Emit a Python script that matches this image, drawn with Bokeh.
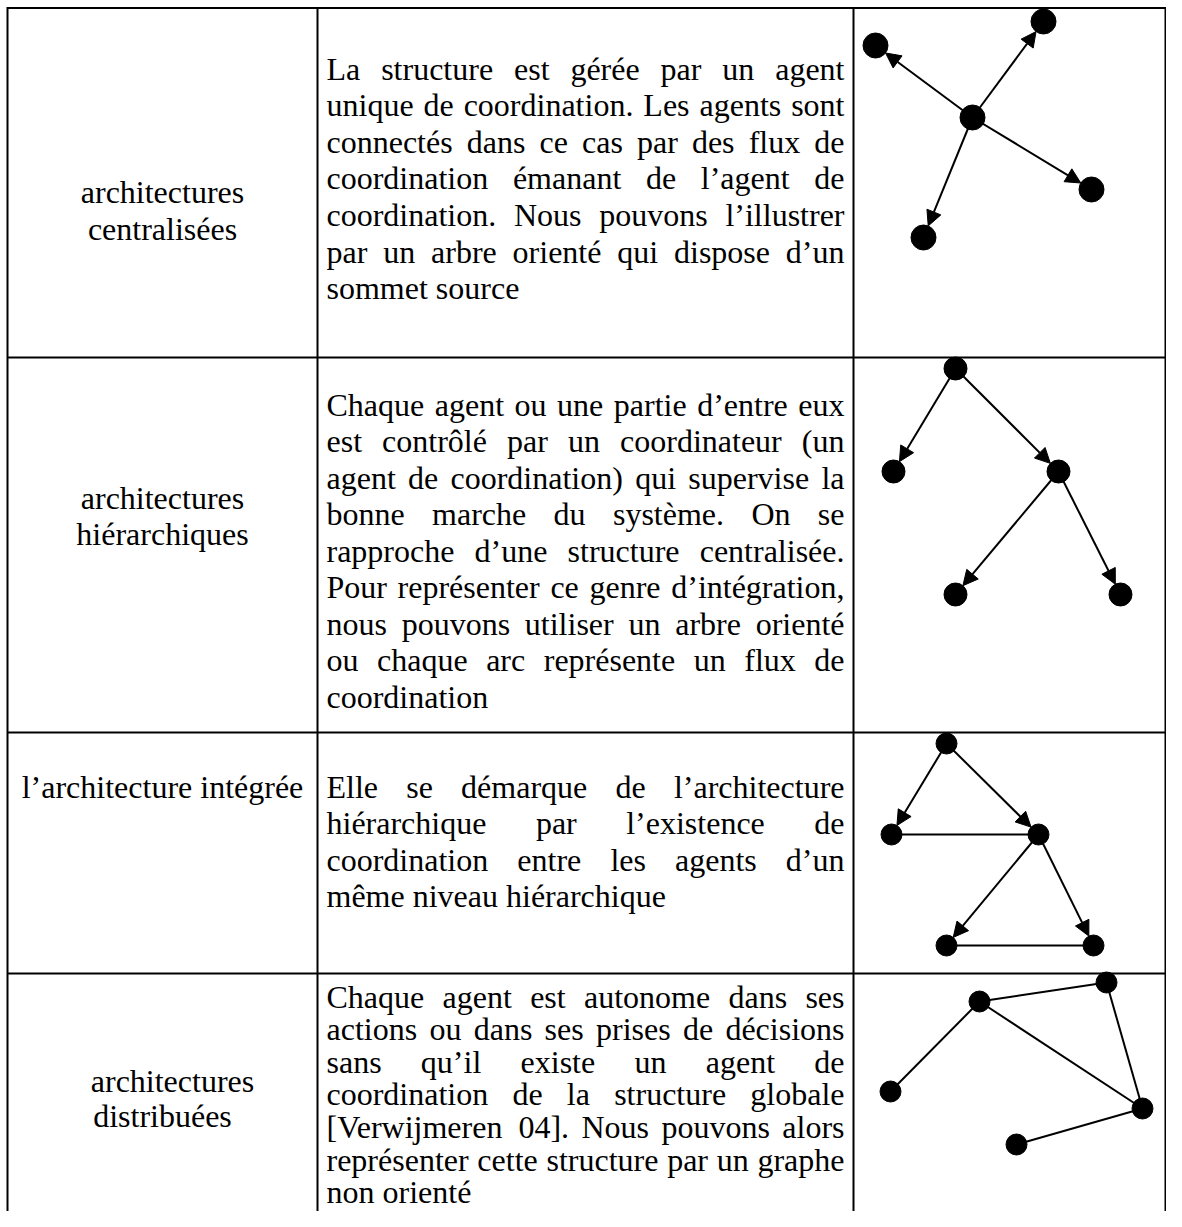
import math
from bokeh.plotting import figure
from bokeh.models import Range1d, ColumnDataSource, Arrow, NormalHead
from bokeh.core.properties import value
from bokeh.embed import file_html
from bokeh.resources import INLINE

# ---------------- data ----------------
row_labels = [
    ["architectures", "centralisées"],
    ["architectures", "hiérarchiques"],
    ["l’architecture intégrée"],
    ["architectures", "distribuées"],
]

row_texts = [
    ["La structure est gérée par un agent",
     "unique de coordination. Les agents sont",
     "connectés dans ce cas par des flux de",
     "coordination émanant de l’agent de",
     "coordination. Nous pouvons l’illustrer",
     "par un arbre orienté qui dispose d’un",
     "sommet source"],
    ["Chaque agent ou une partie d’entre eux",
     "est contrôlé par un coordinateur (un",
     "agent de coordination) qui supervise la",
     "bonne marche du système. On se",
     "rapproche d’une structure centralisée.",
     "Pour représenter ce genre d’intégration,",
     "nous pouvons utiliser un arbre orienté",
     "ou chaque arc représente un flux de",
     "coordination"],
    ["Elle se démarque de l’architecture",
     "hiérarchique par l’existence de",
     "coordination entre les agents d’un",
     "même niveau hiérarchique"],
    ["Chaque agent est autonome dans ses",
     "actions ou dans ses prises de décisions",
     "sans qu’il existe un agent de",
     "coordination de la structure globale",
     "[Verwijmeren 04]. Nous pouvons alors",
     "représenter cette structure par un graphe",
     "non orienté"],
]

# graph nodes (x, y) and edges (from, to, directed)
g_centralised_x = [972, 875, 1043, 1091, 923]
g_centralised_y = [117, 45, 21, 189, 237]
g_centralised_e = [(0, 1, True), (0, 2, True), (0, 3, True), (0, 4, True)]

g_hier_x = [955, 893, 1058, 955, 1120]
g_hier_y = [368, 471, 471, 594, 594]
g_hier_e = [(0, 1, True), (0, 2, True), (2, 3, True), (2, 4, True)]

g_integ_x = [946, 891, 1038, 946, 1093]
g_integ_y = [743, 834, 834, 945, 945]
g_integ_e = [(0, 1, True), (0, 2, True), (1, 2, False), (2, 3, True), (2, 4, True), (3, 4, False)]

g_distr_x = [890, 979, 1106, 1142, 1016]
g_distr_y = [1091, 1001, 982, 1108, 1144]
g_distr_e = [(0, 1, False), (1, 2, False), (1, 3, False), (2, 3, False), (3, 4, False)]

graphs = [
    (g_centralised_x, g_centralised_y, g_centralised_e),
    (g_hier_x, g_hier_y, g_hier_e),
    (g_integ_x, g_integ_y, g_integ_e),
    (g_distr_x, g_distr_y, g_distr_e),
]

# ---------------- layout ----------------
W, H = 1166, 1211
grid_x = [7, 317, 853, 1165]
grid_y = [7.5, 357, 732, 973]
BOTTOM = H

FS = 32
FONT = "Liberation Serif"
TXT_L, TXT_R = 326, 844
COL1_C = 162

label_baselines = [[191, 228], [497, 533], [786], [1080, 1115]]
label_dx = [[0, 0], [0, 0], [0], [10, 0]]
text_first = [68, 404, 996, 996]
text_first[2] = 786
text_lh = [36.6, 36.5, 36.5, 32.6]
node_r = [12.5, 11.5, 10.5, 10.5]

AFM = {' ': 250, '.': 250, ',': 250, '(': 333, ')': 333, '[': 333, ']': 333,
       '’': 333, "'": 333, '-': 333, ':': 278,
       'a': 444, 'b': 500, 'c': 444, 'd': 500, 'e': 444, 'f': 333, 'g': 500, 'h': 500,
       'i': 278, 'j': 278, 'k': 500, 'l': 278, 'm': 778, 'n': 500, 'o': 500, 'p': 500,
       'q': 500, 'r': 333, 's': 389, 't': 278, 'u': 500, 'v': 500, 'w': 722, 'x': 500,
       'y': 500, 'z': 444,
       'A': 722, 'B': 667, 'C': 667, 'D': 722, 'E': 611, 'F': 556, 'G': 722, 'H': 722,
       'I': 333, 'J': 389, 'K': 722, 'L': 611, 'M': 889, 'N': 722, 'O': 722, 'P': 556,
       'Q': 722, 'R': 667, 'S': 556, 'T': 611, 'U': 722, 'V': 722, 'W': 944, 'X': 722,
       'Y': 722, 'Z': 611,
       'é': 444, 'è': 444, 'ê': 444, 'à': 444, 'â': 444, 'ç': 444, 'ô': 500, 'û': 500,
       'ù': 500, 'î': 278, 'ï': 278}


def tw(s):
    return sum(AFM.get(ch, 500) for ch in s) * FS / 1000.0


p = figure(width=W, height=H,
           x_range=Range1d(0, W), y_range=Range1d(H, 0),
           output_backend="svg", toolbar_location=None, min_border=0,
           x_axis_location=None, y_axis_location=None)
p.grid.visible = False
p.outline_line_color = None
p.background_fill_color = "white"
p.border_fill_color = "white"

# table grid
vx0 = grid_x
vy0 = [grid_y[0] - 1] * len(grid_x)
vy1 = [BOTTOM] * len(grid_x)
p.segment(x0=vx0, y0=vy0, x1=vx0, y1=vy1, line_color="black", line_width=2)
hy = grid_y
p.segment(x0=[grid_x[0]] * len(hy), y0=hy, x1=[grid_x[-1]] * len(hy), y1=hy,
          line_color="black", line_width=2)

# column 1 labels
lx, ly, lt = [], [], []
for r, labs in enumerate(row_labels):
    for k, lab in enumerate(labs):
        lx.append(COL1_C + label_dx[r][k])
        ly.append(label_baselines[r][k])
        lt.append(lab)
p.text(x=lx, y=ly, text=lt, text_font=value(FONT), text_font_size=value(f"{FS}px"),
       text_align="center", text_baseline="alphabetic", text_color="black")

# column 2 justified paragraphs
left_x, left_y, left_t = [], [], []
right_x, right_y, right_t = [], [], []
for r, lines in enumerate(row_texts):
    for i, line in enumerate(lines):
        y = text_first[r] + i * text_lh[r]
        words = line.split(" ")
        last = (i == len(lines) - 1)
        if last or len(words) == 1:
            left_x.append(TXT_L); left_y.append(y); left_t.append(line)
            continue
        total = sum(tw(w) for w in words)
        gap = (TXT_R - TXT_L - total) / (len(words) - 1)
        x = TXT_L
        for k, w in enumerate(words):
            if k == len(words) - 1:
                right_x.append(TXT_R); right_y.append(y); right_t.append(w)
            else:
                left_x.append(x); left_y.append(y); left_t.append(w)
            x += tw(w) + gap

p.text(x=left_x, y=left_y, text=left_t, text_font=value(FONT), text_font_size=value(f"{FS}px"),
       text_align="left", text_baseline="alphabetic", text_color="black")
p.text(x=right_x, y=right_y, text=right_t, text_font=value(FONT), text_font_size=value(f"{FS}px"),
       text_align="right", text_baseline="alphabetic", text_color="black")

# graphs
for gi, (gx, gy, ge) in enumerate(graphs):
    r = node_r[gi]
    ux0, uy0, ux1, uy1 = [], [], [], []
    ax0, ay0, ax1, ay1 = [], [], [], []
    for a, b, directed in ge:
        if directed:
            dx, dy = gx[b] - gx[a], gy[b] - gy[a]
            d = math.hypot(dx, dy)
            ax0.append(gx[a]); ay0.append(gy[a])
            ax1.append(gx[b] - r * dx / d); ay1.append(gy[b] - r * dy / d)
        else:
            ux0.append(gx[a]); uy0.append(gy[a]); ux1.append(gx[b]); uy1.append(gy[b])
    if ux0:
        p.segment(x0=ux0, y0=uy0, x1=ux1, y1=uy1, line_color="black", line_width=2)
    if ax0:
        src = ColumnDataSource(dict(x0=ax0, y0=ay0, x1=ax1, y1=ay1))
        p.add_layout(Arrow(source=src, x_start="x0", y_start="y0", x_end="x1", y_end="y1",
                           line_color="black", line_width=2,
                           end=NormalHead(size=15, fill_color="black", line_color="black",
                                          line_width=1)))
    p.circle(x=gx, y=gy, radius=r, fill_color="black", line_color="black")

open("out.html", "w").write(file_html(p, INLINE))
